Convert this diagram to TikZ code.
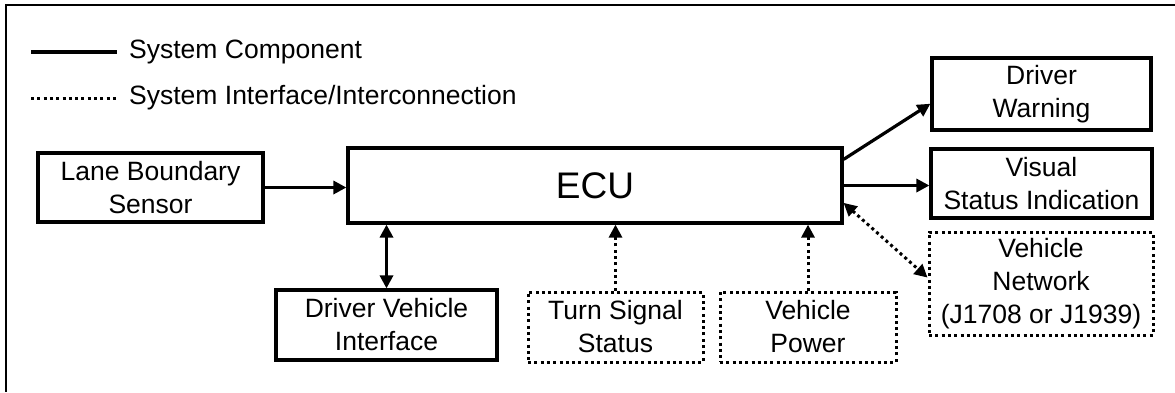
\documentclass[tikz,border=0pt]{standalone}
\usepackage{fontspec}
\setmainfont{Liberation Sans}
\usetikzlibrary{arrows.meta}
\tikzset{
  every node/.style={font=\fontsize{26.5}{33}\selectfont, align=center, inner sep=0pt},
  comp/.style={draw, line width=3.2pt, rectangle},
  iface/.style={draw, line width=3pt, rectangle, dash pattern=on 3pt off 3.3pt},
  solidcon/.style={line width=3.2pt},
  dotcon/.style={line width=3pt, dash pattern=on 3pt off 3.3pt},
  tip/.style={-{Triangle[length=13pt,width=13pt]}},
  dtip/.style={{Triangle[length=13pt,width=13pt]}-{Triangle[length=13pt,width=13pt]}},
  framestyle/.style={line width=2.2pt}
}
\begin{document}
\begin{tikzpicture}[x=1pt,y=-1pt]
\useasboundingbox (0,0) rectangle (1175,392);
\fill[white] (0,0) rectangle (1175,392);
% frame
\coordinate (fA) at (1175,5);
\coordinate (fB) at (6,5);
\coordinate (fC) at (6,392);
\draw[framestyle] (fA) -- (fB) -- (fC);
% legend
\coordinate (la1) at (31,52);
\coordinate (la2) at (117,52);
\coordinate (lb1) at (31,98);
\coordinate (lb2) at (116,98);
\draw[solidcon] (la1) -- (la2);
\draw[dotcon] (lb1) -- (lb2);
\node[anchor=west] (legA) at (129,52) {System Component};
\node[anchor=west] (legB) at (129,98) {System Interface/Interconnection};
% boxes
\node[comp, minimum width=225pt, minimum height=69pt] (lane) at (150.5,187.5) {Lane Boundary\\Sensor};
\node[comp, minimum width=494pt, minimum height=75pt, font=\fontsize{37}{40}\selectfont] (ecu) at (595,185.5) {ECU};
\node[comp, minimum width=219pt, minimum height=72pt] (dw) at (1041.5,94) {Driver\\Warning};
\node[comp, minimum width=221pt, minimum height=69pt] (vsi) at (1041.5,183.5) {Visual\\Status Indication};
\node[iface, minimum width=224pt, minimum height=103pt] (vn) at (1041,283.5) {Vehicle\\Network\\(J1708 or J1939)};
\node[comp, minimum width=221pt, minimum height=70pt] (dvi) at (386.5,325) {Driver Vehicle\\Interface};
\node[iface, minimum width=175pt, minimum height=70pt] (tss) at (615.5,327) {Turn Signal\\Status};
\node[iface, minimum width=176pt, minimum height=70pt] (vp) at (808,327) {Vehicle\\Power};
% connectors
\draw[solidcon, tip] (lane.east) -- (lane.east -| ecu.west);
\draw[solidcon, tip] (ecu.6.4) -- (dw.185);
\draw[solidcon, tip] (ecu.east) -- (ecu.east -| vsi.west);
\draw[dotcon, dtip] (ecu.-4.5) -- (vn.177);
\draw[solidcon, dtip] (dvi.north) -- (dvi.north |- ecu.south);
\draw[dotcon, tip] (tss.north) -- (tss.north |- ecu.south);
\draw[dotcon, tip] (vp.north) -- (vp.north |- ecu.south);
\end{tikzpicture}
\end{document}
